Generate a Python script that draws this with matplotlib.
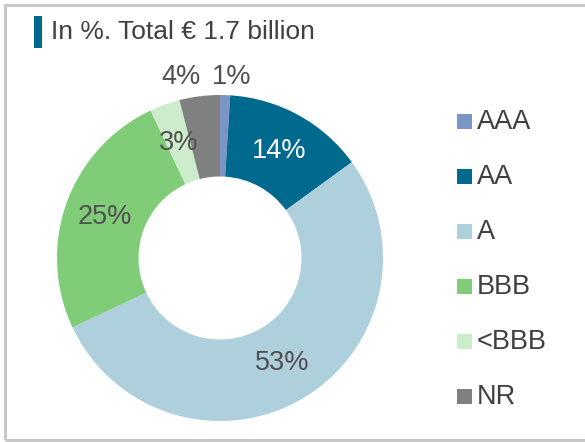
import matplotlib
matplotlib.use("Agg")
import matplotlib.pyplot as plt
import numpy as np
from matplotlib.patches import Rectangle

plt.rcParams['font.family'] = ['Liberation Sans', 'DejaVu Sans']

categories = ["AAA", "AA", "A", "BBB", "<BBB", "NR"]
values = [1, 14, 53, 25, 3, 4]
labels = ["1%", "14%", "53%", "25%", "3%", "4%"]
colors = ["#7b95c4", "#006a8e", "#aecfdc", "#80cc78", "#cdeccb", "#808080"]
label_colors = ["#505050", "#ffffff", "#505050", "#505050", "#505050", "#505050"]
outside = ["AAA", "NR"]
title = "In %. Total \u20ac 1.7 billion"
text_color = "#404040"
FS = 19.5

W, H = 585, 442
fig = plt.figure(figsize=(W / 100, H / 100), dpi=100)

# border
fig.patches.append(Rectangle((5 / W, 1 - 440 / H), 1.2, 435 / H, transform=fig.transFigure,
                             fill=False, edgecolor="#c8c8c8", linewidth=2.2))

# title bar and title
fig.patches.append(Rectangle((34 / W, 1 - 48 / H), 8 / W, 32 / H, transform=fig.transFigure,
                             facecolor="#006a8e", edgecolor="none"))
fig.text(51 / W, 1 - 32 / H, title, fontsize=19, color=text_color, va="center", ha="left")

# donut: center (220,258), radius 163
R = 163
cx, cy = 220, 258
ax = fig.add_axes([(cx - R) / W, 1 - (cy + R) / H, 2 * R / W, 2 * R / H])
wedges, _ = ax.pie(values, colors=colors, startangle=90, counterclock=False,
                   radius=1.0, wedgeprops=dict(width=0.5, edgecolor="none"))
ax.set_xlim(-1, 1)
ax.set_ylim(-1, 1)
ax.set_aspect("equal")
ax.axis("off")

# labels inside the ring
cum = np.cumsum([0] + values[:-1])
for i, (cat, v, lab) in enumerate(zip(categories, values, labels)):
    if cat in outside:
        continue
    ang = np.deg2rad(90 - (cum[i] + v / 2) * 3.6)
    r = 0.75
    ax.text(r * np.cos(ang), r * np.sin(ang), lab, ha="center", va="center",
            fontsize=FS, color=label_colors[i])
# small slices labelled outside at top
ax.text(0.07, 1.11, labels[categories.index("AAA")], ha="center", va="center",
        fontsize=FS, color=label_colors[0], clip_on=False)
ax.text(-0.24, 1.11, labels[categories.index("NR")], ha="center", va="center",
        fontsize=FS, color=label_colors[5], clip_on=False)

# legend (manual)
y0, dy = 121, 55
for i, (cat, col) in enumerate(zip(categories, colors)):
    y = y0 + i * dy
    fig.patches.append(Rectangle((457 / W, 1 - (y + 7.5) / H), 15 / W, 15 / H,
                                 transform=fig.transFigure, facecolor=col, edgecolor="none"))
    fig.text(477 / W, 1 - (y + 1) / H, cat, fontsize=FS, color=text_color,
             va="center", ha="left")

fig.savefig("out.png", dpi=100)
